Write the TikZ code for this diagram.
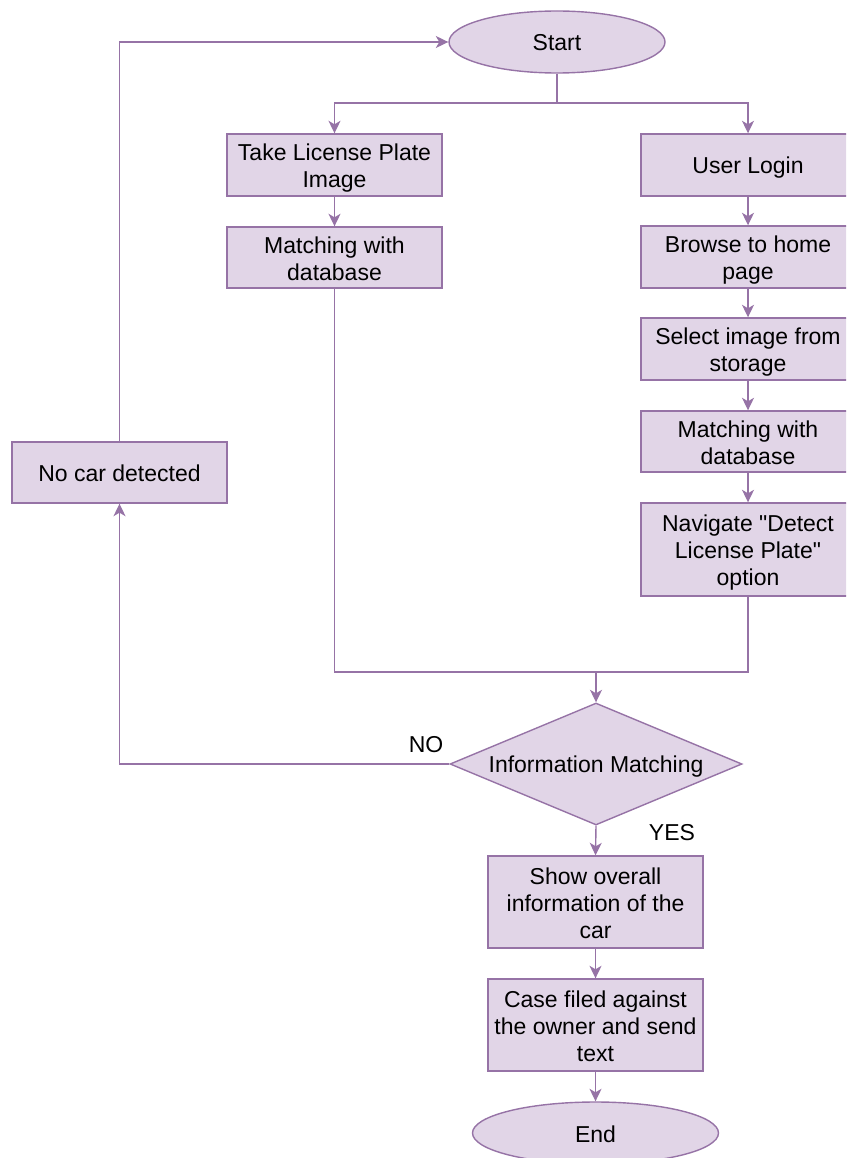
\documentclass[tikz,border=0pt]{standalone}
\usepackage{fontspec}
\newfontfamily\lib{Liberation Sans}
\usetikzlibrary{shapes.geometric,arrows.meta}
\definecolor{pfill}{HTML}{E1D5E7}
\definecolor{pline}{HTML}{9673A6}
\newcommand{\lstrut}{\rule[-4.5pt]{0pt}{27pt}}
\begin{document}
\begin{tikzpicture}[x=1pt,y=-1pt,
  base/.style={draw=pline,fill=pfill,line width=1.4pt,inner sep=0pt,align=center,
    font=\lib\fontsize{23}{27}\selectfont,
    execute at begin node=\lstrut, execute at end node=\lstrut},
  box/.style={base,rectangle,minimum width=215pt,minimum height=62pt},
  oval/.style={base,ellipse,minimum height=62pt},
  dia/.style={base,diamond,aspect=2.4,minimum width=292pt,minimum height=122pt},
  conn/.style={draw=pline,line width=1.4pt},
  arr/.style={conn,-{Stealth[length=12.5pt,width=12pt,inset=3.5pt]}},
  lbl/.style={font=\lib\fontsize{23}{27}\selectfont,inner sep=0pt}]
\useasboundingbox (0,0) rectangle (846,1158);
\clip (0,0) rectangle (846,1158);
\node[oval,minimum width=216pt] (start) at (557,42) {Start};
\node[box] (take) at (334.5,165) {\lstrut Take License Plate\\Image};
\node[box,minimum height=61pt] (match1) at (334.5,257.5) {\lstrut Matching with\\database};
\node[box,minimum width=214pt] (login) at (748,165) {User Login};
\node[box,minimum width=214pt] (browse) at (748,257) {\lstrut Browse to home\\page};
\node[box,minimum width=214pt] (select) at (748,349) {\lstrut Select image from\\storage};
\node[box,minimum width=214pt,minimum height=61pt] (match2) at (748,441.5) {\lstrut Matching with\\database};
\node[box,minimum width=214pt,minimum height=93pt] (nav) at (748,549.5) {\lstrut Navigate "Detect\\License Plate"\\option};
\node[box,minimum height=61pt] (nocar) at (119.5,472.5) {No car detected};
\node[dia] (dec) at (596,764) {Information Matching};
\node[box,minimum height=92pt] (show) at (595.5,902) {\lstrut Show overall\\information of the\\car};
\node[box,minimum height=92pt] (casef) at (595.5,1025) {\lstrut Case filed against\\the owner and send\\text};
\node[oval,minimum width=246pt] (end) at (595.5,1133) {End};
\coordinate (split) at (557,103);
\coordinate (merge) at (596,672);
\draw[arr] (start.south) -- (split) -| (take.north);
\draw[arr] (split) -| (login.north);
\draw[arr] (take) -- (match1);
\draw[arr] (login) -- (browse);
\draw[arr] (browse) -- (select);
\draw[arr] (select) -- (match2);
\draw[arr] (match2) -- (nav);
\draw[conn] (match1.south) |- (merge) -| (nav.south);
\draw[arr] (merge) -- (dec.north);
\draw[arr] (dec.west) -| (nocar.south);
\draw[arr] (nocar.north) |- (start.west);
\draw[arr] (dec.south) -- (show.north);
\draw[arr] (show) -- (casef);
\draw[arr] (casef) -- (end);
\node[lbl] (no) at (426,745) {NO};
\node[lbl] (yes) at (672,833) {YES};
\end{tikzpicture}
\end{document}
